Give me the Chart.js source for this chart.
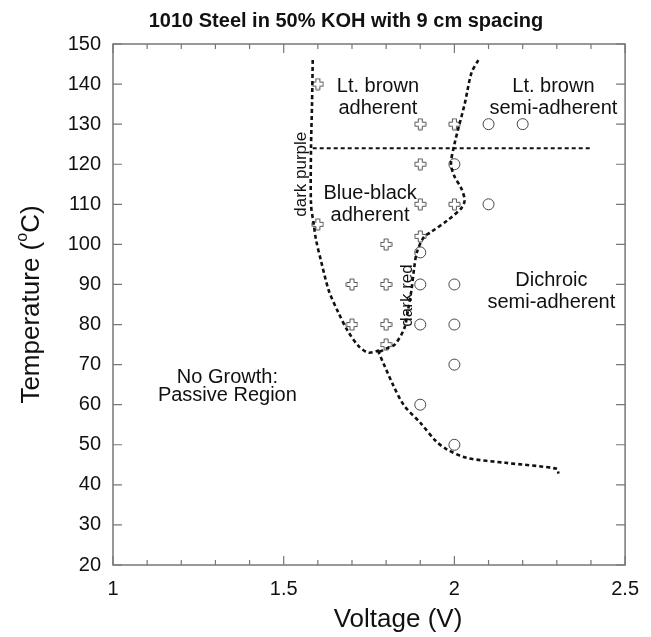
<!DOCTYPE html>
<html><head><meta charset="utf-8">
<script src="https://cdn.jsdelivr.net/npm/chart.js@4/dist/chart.umd.min.js"></script>
<style>html,body{margin:0;padding:0;background:#fff;}#wrap{position:relative;width:651px;height:637px;}</style>
</head><body><div id="wrap"><canvas id="c"></canvas></div>
<script>
// ---- data ----
const chartTitle = "1010 Steel in 50% KOH with 9 cm spacing";
const xAxisTitle = "Voltage (V)";
const yAxisTitleParts = ["Temperature (", "o", "C)"];
const xTickLabels = [1, 1.5, 2, 2.5];
const yTickLabels = [20, 30, 40, 50, 60, 70, 80, 90, 100, 110, 120, 130, 140, 150];

const crossV = [1.6, 1.9, 2.0, 1.9, 1.9, 2.0, 1.6, 1.8, 1.9, 1.7, 1.8, 1.7, 1.8, 1.8];
const crossT = [140, 130, 130, 120, 110, 110, 105, 100, 102, 90, 90, 80, 80, 75];
const circleV = [2.1, 2.2, 2.0, 2.1, 1.9, 1.9, 2.0, 1.9, 2.0, 2.0, 1.9, 2.0];
const circleT = [130, 130, 120, 110, 98, 90, 90, 80, 80, 70, 60, 50];

const purpleV = [1.585, 1.583, 1.58, 1.58, 1.588, 1.595, 1.609, 1.632, 1.66, 1.687, 1.718, 1.747, 1.78];
const purpleT = [146, 135, 124, 110, 105, 101, 96, 88.5, 83, 78.5, 74.75, 73, 73.5];
const redV = [2.07, 2.05, 2.03, 2.0, 1.99, 2.0, 2.02, 2.03, 2.02, 1.98, 1.93, 1.91, 1.89, 1.882, 1.874, 1.865, 1.853, 1.825, 1.80, 1.776];
const redT = [146, 142.8, 135, 125, 120, 117, 114, 111, 109, 106, 103, 101.75, 98, 94, 88.5, 84, 79, 75, 74, 73];
const lowerV = [1.776, 1.82, 1.853, 1.90, 1.945, 1.975, 2.035, 2.15, 2.30, 2.305];
const lowerT = [73.5, 65, 59.75, 55.5, 51, 49, 46.75, 45.5, 44, 42.8];
const tempLineV = [1.585, 2.4];
const tempLineT = [124, 124];

const regionLabels = [
  {text: ["Lt. brown", "adherent"], v: 1.776, t: [139.3, 134]},
  {text: ["Lt. brown", "semi-adherent"], v: 2.29, t: [139.3, 134]},
  {text: ["Blue-black", "adherent"], v: 1.753, t: [112.75, 107.25]},
  {text: ["Dichroic", "semi-adherent"], v: 2.284, t: [91, 85.5]},
  {text: ["No Growth:", "Passive Region"], v: 1.335, t: [66.75, 62.3]}
];
const rotatedLabels = [
  {text: "dark purple", v: 1.552, t: 117.5},
  {text: "dark red", v: 1.862, t: 87.25}
];

// ---- rendering ----
const FONT = '"Liberation Sans", Arial, Helvetica, sans-serif';
const zip = (xs, ys) => xs.map((x, i) => ({x: x, y: ys[i]}));

function makeCross() {
  const c = document.createElement('canvas');
  c.width = 13; c.height = 13;
  const g = c.getContext('2d');
  const m = 6.5, a = 2, L = 5.5;
  g.beginPath();
  g.moveTo(m - a, m - L); g.lineTo(m + a, m - L); g.lineTo(m + a, m - a);
  g.lineTo(m + L, m - a); g.lineTo(m + L, m + a); g.lineTo(m + a, m + a);
  g.lineTo(m + a, m + L); g.lineTo(m - a, m + L); g.lineTo(m - a, m + a);
  g.lineTo(m - L, m + a); g.lineTo(m - L, m - a); g.lineTo(m - a, m - a);
  g.closePath();
  g.fillStyle = '#fff'; g.fill();
  g.strokeStyle = '#555'; g.lineWidth = 1; g.stroke();
  return c;
}

const lineDs = (data) => ({
  data: data, showLine: true, pointRadius: 0, borderColor: '#111',
  borderWidth: 2.6, borderDash: [4, 3], tension: 0.3, fill: false
});

const overlay = {
  id: 'overlay',
  beforeDatasetsDraw(chart) {
    const ctx = chart.ctx, a = chart.chartArea;
    const xs = chart.scales.x, ys = chart.scales.y;
    ctx.save();
    ctx.strokeStyle = '#777'; ctx.lineWidth = 1.5;
    ctx.strokeRect(a.left, a.top, a.right - a.left, a.bottom - a.top);
    ctx.lineWidth = 1.2;
    ctx.beginPath();
    for (let i = 0; i <= 15; i++) {
      const v = 1 + i * 0.1;
      const px = xs.getPixelForValue(v);
      const len = (i % 5 === 0) ? 9 : 5;
      ctx.moveTo(px, a.bottom); ctx.lineTo(px, a.bottom - len);
      ctx.moveTo(px, a.top); ctx.lineTo(px, a.top + len);
    }
    yTickLabels.forEach(t => {
      const py = ys.getPixelForValue(t);
      ctx.moveTo(a.left, py); ctx.lineTo(a.left + 9, py);
      ctx.moveTo(a.right, py); ctx.lineTo(a.right - 9, py);
    });
    ctx.stroke();
    ctx.restore();
  },
  afterDatasetsDraw(chart) {
    const ctx = chart.ctx;
    const xs = chart.scales.x, ys = chart.scales.y;
    ctx.save();
    ctx.fillStyle = '#111';
    ctx.textAlign = 'center'; ctx.textBaseline = 'middle';
    ctx.font = '20px ' + FONT;
    regionLabels.forEach(l => {
      l.text.forEach((s, i) => ctx.fillText(s, xs.getPixelForValue(l.v), ys.getPixelForValue(l.t[i])));
    });
    ctx.font = '17px ' + FONT;
    rotatedLabels.forEach(l => {
      ctx.save();
      ctx.translate(xs.getPixelForValue(l.v), ys.getPixelForValue(l.t));
      ctx.rotate(-Math.PI / 2);
      ctx.fillText(l.text, 0, 0);
      ctx.restore();
    });
    ctx.restore();
  },
  afterDraw(chart) {
    const ctx = chart.ctx, a = chart.chartArea;
    ctx.save();
    ctx.fillStyle = '#111';
    ctx.textAlign = 'center'; ctx.textBaseline = 'middle';
    ctx.font = 'bold 20px ' + FONT;
    ctx.fillText(chartTitle, 346, 21);
    ctx.font = '26px ' + FONT;
    ctx.fillText(xAxisTitle, 398, 620);
    // y title with superscript
    ctx.translate(32, (a.top + a.bottom) / 2);
    ctx.rotate(-Math.PI / 2);
    ctx.textAlign = 'left';
    ctx.font = '26px ' + FONT;
    const w1 = ctx.measureText(yAxisTitleParts[0]).width;
    const w3 = ctx.measureText(yAxisTitleParts[2]).width;
    ctx.font = '16px ' + FONT;
    const w2 = ctx.measureText(yAxisTitleParts[1]).width;
    const x0 = -(w1 + w2 + w3) / 2;
    ctx.font = '26px ' + FONT;
    ctx.fillText(yAxisTitleParts[0], x0, 0);
    ctx.fillText(yAxisTitleParts[2], x0 + w1 + w2, 0);
    ctx.font = '16px ' + FONT;
    ctx.fillText(yAxisTitleParts[1], x0 + w1, -9);
    ctx.restore();
  }
};

new Chart(document.getElementById('c'), {
  type: 'scatter',
  data: {
    datasets: [
      lineDs(zip(purpleV, purpleT)),
      lineDs(zip(redV, redT)),
      lineDs(zip(lowerV, lowerT)),
      Object.assign(lineDs(zip(tempLineV, tempLineT)), {borderWidth: 2, tension: 0}),
      {data: zip(crossV, crossT), pointStyle: makeCross(), pointRadius: 6, showLine: false},
      {data: zip(circleV, circleT), pointStyle: 'circle', pointRadius: 5.5,
       backgroundColor: '#fff', borderColor: '#444', borderWidth: 1, showLine: false}
    ]
  },
  options: {
    responsive: true, maintainAspectRatio: false, animation: false,
    layout: {padding: {left: 0, right: 16, top: 44, bottom: 0}},
    plugins: {legend: {display: false}, tooltip: {enabled: false}, title: {display: false}},
    scales: {
      x: {
        type: 'linear', min: 1, max: 2.5,
        afterBuildTicks: s => { s.ticks = xTickLabels.map(v => ({value: v})); },
        afterFit: s => { s.height = 72; },
        grid: {display: false, drawTicks: false}, border: {display: false},
        ticks: {color: '#111', font: {size: 20, family: FONT}, padding: 12, maxRotation: 0,
                callback: v => String(v)}
      },
      y: {
        type: 'linear', min: 20, max: 150,
        afterBuildTicks: s => { s.ticks = yTickLabels.map(v => ({value: v})); },
        afterFit: s => { s.width = 113; },
        grid: {display: false, drawTicks: false}, border: {display: false},
        ticks: {color: '#111', font: {size: 20, family: FONT}, padding: 12, callback: v => String(v)}
      }
    }
  },
  plugins: [overlay]
});
</script></body></html>
